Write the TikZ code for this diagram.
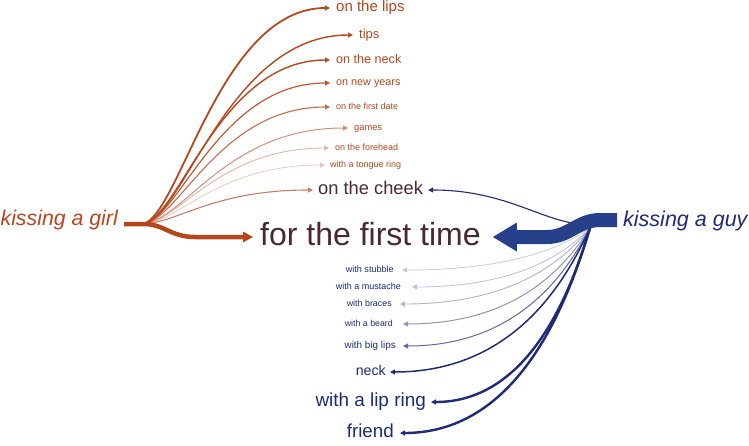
\documentclass[tikz,border=0pt]{standalone}
\usepackage{fontspec}
\setmainfont{Liberation Sans}
\usetikzlibrary{arrows.meta}
\definecolor{rust}{HTML}{B8461C}
\definecolor{navy}{HTML}{1E2A7A}
\definecolor{bandc}{HTML}{26408A}
\definecolor{plum}{HTML}{4A2830}
\tikzset{
  fs/.code={\pgfmathsetmacro\mylbh{0.52*#1}\tikzset{font=\fontsize{#1}{#1}\selectfont,text height=\mylbh pt,text depth=0pt}},
  lbl/.style={inner ysep=0pt},
  gl/.style={lbl,anchor=west,text=rust,inner xsep=6pt},
  bl/.style={lbl,anchor=east,text=navy},
  tipa/.style={-{Triangle[length=5pt,width=5pt]}},
  gc/.style 2 args={draw=rust!#1,line width=#2,tipa},
  bc/.style 2 args={draw=navy!#1,line width=#2,tipa},
}
\begin{document}
\begin{tikzpicture}[x=1pt,y=-1pt]
\useasboundingbox (0,0) rectangle (749,445);
% sources
\coordinate (gs) at (124,224);
\coordinate (g0) at (143,224);
\coordinate (g1) at (195,237);
\coordinate (b0) at (590,228);
\coordinate (bc0) at (585,224);
\coordinate (gb) at (617,220);
\coordinate (gb2) at (600,220);
\coordinate (gb3) at (547,237);
\node[lbl,anchor=east,inner xsep=0pt,text=rust,fs=21.3] (girl) at (118,220) {\itshape kissing a girl};
\node[lbl,anchor=west,inner xsep=0pt,text=navy,fs=21.5] (guy) at (623,221) {\itshape kissing a guy};
% main target
\node[lbl,anchor=west,inner xsep=7pt,text=plum,fs=32] (ftime) at (253,237) {for the first time};
% girl targets
\node[gl,fs=15] (lips) at (330,8) {on the lips};
\node[gl,fs=13] (tips) at (353,35) {tips};
\node[gl,fs=12.6] (neck1) at (330,60) {on the neck};
\node[gl,fs=10.8] (years) at (330,83) {on new years};
\node[gl,fs=9] (date) at (330,107) {on the first date};
\node[gl,fs=9.3] (games) at (348,128) {games};
\node[gl,fs=9] (forehead) at (329,148) {on the forehead};
\node[gl,fs=9,inner xsep=5pt] (tongue) at (325,165) {with a tongue ring};
\node[lbl,anchor=west,inner xsep=5pt,text=plum,fs=18.3] (cheek) at (313,190) {on the cheek};
% guy targets
\node[bl,fs=9.1,inner xsep=8pt] (stubble) at (402,270) {with stubble};
\node[bl,fs=9,inner xsep=11pt] (mustache) at (412,287) {with a mustache};
\node[bl,fs=8.9,inner xsep=8pt] (braces) at (400,304) {with braces};
\node[bl,fs=8.8,inner xsep=10pt] (beard) at (403,324) {with a beard};
\node[bl,fs=9.9,inner xsep=7pt] (biglips) at (403,346) {with big lips};
\node[bl,fs=14.2,inner xsep=4pt] (neck2) at (390,372) {neck};
\node[bl,fs=18.9,inner xsep=5pt] (lipring) at (431,402) {with a lip ring};
\node[bl,fs=18.8,inner xsep=6pt] (friend) at (400,433) {friend};
% girl curves
\draw[gc={30}{0.8pt}] (g0) .. controls +(36,-2) and +(-107,0) .. (tongue.west);
\draw[gc={40}{0.9pt}] (g0) .. controls +(37,-3) and +(-110,0) .. (forehead.west);
\draw[gc={60}{1pt}] (g0) .. controls +(41,-4) and +(-121,0) .. (games.west);
\draw[gc={70}{1.1pt}] (g0) .. controls +(34,-1) and +(-100,0) .. (cheek.west);
\draw[gc={80}{1.1pt}] (g0) .. controls +(37,-5) and +(-110,0) .. (date.west);
\draw[gc={90}{1.2pt}] (g0) .. controls +(37,-6) and +(-110,0) .. (years.west);
\draw[gc={100}{1.4pt}] (g0) .. controls +(37,-7) and +(-110,0) .. (neck1.west);
\draw[gc={100}{1.4pt}] (g0) .. controls +(42,-8) and +(-124,0) .. (tips.west);
\draw[gc={100}{1.8pt}] (g0) .. controls +(37,-9) and +(-110,0) .. (lips.west);
% guy curves
\draw[bc={100}{1.1pt}] (bc0) .. controls +(-40,0) and +(80,0) .. (cheek.east);
\draw[bc={25}{0.8pt}] (b0) .. controls +(-19,13) and +(122,0) .. (stubble.east);
\draw[bc={30}{0.8pt}] (b0) .. controls +(-18,18) and +(116,0) .. (mustache.east);
\draw[bc={35}{0.9pt}] (b0) .. controls +(-19,23) and +(124,0) .. (braces.east);
\draw[bc={50}{1pt}] (b0) .. controls +(-19,29) and +(122,0) .. (beard.east);
\draw[bc={70}{1pt}] (b0) .. controls +(-19,35) and +(122,0) .. (biglips.east);
\draw[bc={100}{1.5pt}] (b0) .. controls +(-20,43) and +(130,0) .. (neck2.east);
\draw[bc={100}{2.4pt}] (b0) .. controls +(-16,52) and +(103,0) .. (lipring.east);
\draw[bc={100}{2.4pt}] (b0) .. controls +(-19,62) and +(124,0) .. (friend.east);
% guy band
\draw[bandc,line width=14pt] (gb) -- (gb2) .. controls +(-22,0) and +(22,0) .. (gb3) -- ([xshift=28pt]ftime.east);
\fill[bandc] ([xshift=5pt]ftime.east) -- ++(24,-14.5) -- ++(0,29) -- cycle;
% girl thick arrow
\draw[rust,line width=4.5pt] (gs) -- (g0) .. controls +(22,0) and +(-25,0) .. (g1) -- ([xshift=-9pt]ftime.west);
\fill[rust] (ftime.west) -- ++(-10,5.5) -- ++(0,-11) -- cycle;
\end{tikzpicture}
\end{document}
